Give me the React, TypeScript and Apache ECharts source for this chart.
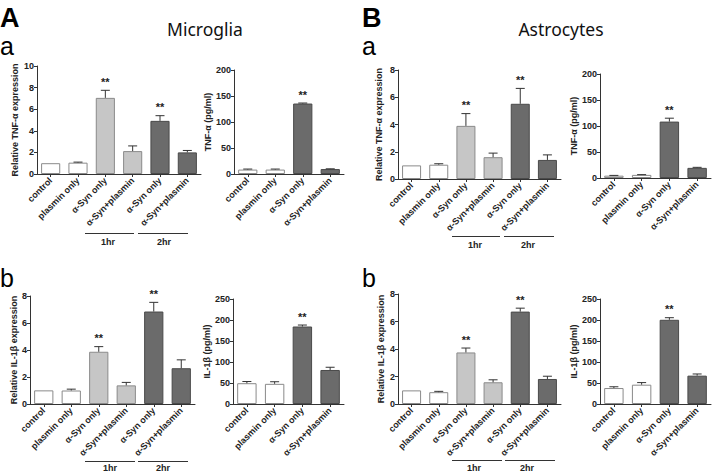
import React, { useEffect, useRef } from "react";
import * as echarts from "echarts";

// ---------- data ----------
const qpcrCategories = ["control", "plasmin only", "α-Syn only", "α-Syn+plasmin", "α-Syn only", "α-Syn+plasmin"];
const elisaCategories = ["control", "plasmin only", "α-Syn only", "α-Syn+plasmin"];

const qpcrGroups = ["white", "white", "light", "light", "dark", "dark"];
const elisaGroups = ["white", "white", "dark", "dark"];

const qpcrSignificant = [0, 0, 1, 0, 1, 0];
const elisaSignificant = [0, 0, 1, 0];

// Microglia
const mgTnfRelMean = [1.0, 1.05, 7.05, 2.12, 4.92, 2.0];
const mgTnfRelSem = [0, 0.05, 0.7, 0.48, 0.48, 0.18];
const mgTnfElisaMean = [8.5, 8.5, 135.5, 9.5];
const mgTnfElisaSem = [1, 1, 1, 0.5];
const mgIl1RelMean = [1.01, 1.0, 3.87, 1.38, 6.85, 2.65];
const mgIl1RelSem = [0, 0.1, 0.38, 0.22, 0.68, 0.62];
const mgIl1ElisaMean = [49.5, 48, 184.5, 81];
const mgIl1ElisaSem = [4, 5, 3.5, 6.5];

// Astrocytes
const asTnfRelMean = [1.0, 1.05, 3.9, 1.6, 5.52, 1.4];
const asTnfRelSem = [0, 0.07, 0.9, 0.3, 1.13, 0.37];
const asTnfElisaMean = [4.5, 6, 108.5, 19.5];
const asTnfElisaSem = [0.5, 0.5, 6.5, 1];
const asIl1RelMean = [0.99, 0.86, 3.75, 1.58, 6.72, 1.82];
const asIl1RelSem = [0, 0.06, 0.32, 0.18, 0.25, 0.2];
const asIl1ElisaMean = [38, 46, 200.5, 67.5];
const asIl1ElisaSem = [3, 5, 5, 4];

const relTnfName = "Relative TNF-α expression";
const elisaTnfName = "TNF-α (pg/ml)";
const relIl1Name = "Relative IL-1β expression";
const elisaIl1Name = "IL-1β (pg/ml)";

// ---------- styles ----------
const FONT = "'Liberation Sans', Arial, sans-serif";
const TITLE_FONT = "'Noto Sans', 'Open Sans', sans-serif";
const fills: Record<string, string> = { white: "#ffffff", light: "#c6c6c6", dark: "#6b6b6b" };
const borders: Record<string, string> = { white: "#8a8a8a", light: "#8a8a8a", dark: "#4a4a4a" };

type Panel = {
  cats: string[];
  groups: string[];
  sig: number[];
  mean: number[];
  sem: number[];
  name: string;
  max: number;
  interval: number;
  grid: { left: number; top: number; width: number; height: number };
  nameGap: number;
};

const panels: Panel[] = [
  { cats: qpcrCategories, groups: qpcrGroups, sig: qpcrSignificant, mean: mgTnfRelMean, sem: mgTnfRelSem, name: relTnfName, max: 10, interval: 2, grid: { left: 37, top: 66, width: 164, height: 108 }, nameGap: 18 },
  { cats: elisaCategories, groups: elisaGroups, sig: elisaSignificant, mean: mgTnfElisaMean, sem: mgTnfElisaSem, name: elisaTnfName, max: 200, interval: 50, grid: { left: 234, top: 70, width: 110, height: 104 }, nameGap: 19 },
  { cats: qpcrCategories, groups: qpcrGroups, sig: qpcrSignificant, mean: asTnfRelMean, sem: asTnfRelSem, name: relTnfName, max: 8, interval: 2, grid: { left: 398, top: 70, width: 163, height: 109 }, nameGap: 15 },
  { cats: elisaCategories, groups: elisaGroups, sig: elisaSignificant, mean: asTnfElisaMean, sem: asTnfElisaSem, name: elisaTnfName, max: 200, interval: 50, grid: { left: 600, top: 74, width: 111, height: 104 }, nameGap: 19 },
  { cats: qpcrCategories, groups: qpcrGroups, sig: qpcrSignificant, mean: mgIl1RelMean, sem: mgIl1RelSem, name: relIl1Name, max: 8, interval: 2, grid: { left: 30, top: 296, width: 165, height: 108 }, nameGap: 10 },
  { cats: elisaCategories, groups: elisaGroups, sig: elisaSignificant, mean: mgIl1ElisaMean, sem: mgIl1ElisaSem, name: elisaIl1Name, max: 250, interval: 50, grid: { left: 233, top: 299, width: 111, height: 105 }, nameGap: 18 },
  { cats: qpcrCategories, groups: qpcrGroups, sig: qpcrSignificant, mean: asIl1RelMean, sem: asIl1RelSem, name: relIl1Name, max: 8, interval: 2, grid: { left: 398, top: 294, width: 163, height: 110 }, nameGap: 13 },
  { cats: elisaCategories, groups: elisaGroups, sig: elisaSignificant, mean: asIl1ElisaMean, sem: asIl1ElisaSem, name: elisaIl1Name, max: 250, interval: 50, grid: { left: 600, top: 299, width: 111, height: 105 }, nameGap: 20 },
];

// bracket annotations (layout)
const brackets = [
  { y: 233.5, a: [85, 134], b: [138, 188], ly: 242, la: 108, lb: 164 },
  { y: 461.5, a: [85, 135], b: [138, 188], ly: 468, la: 110, lb: 163 },
  { y: 236.5, a: [452, 500], b: [504, 554], ly: 245, la: 475, lb: 528 },
  { y: 460.5, a: [452, 502], b: [505, 555], ly: 468, la: 474, lb: 527 },
];

function buildOption() {
  const grid = panels.map((p) => ({ ...p.grid, containLabel: false }));
  const xAxis = panels.map((p, i) => ({
    type: "category",
    gridIndex: i,
    data: p.cats,
    axisLine: { show: true, lineStyle: { color: "#333", width: 1 } },
    axisTick: { show: true, alignWithLabel: true, length: 3, lineStyle: { color: "#333" } },
    axisLabel: { interval: 0, rotate: 45, fontSize: 9, fontWeight: "bold", color: "#222", margin: 5, fontFamily: FONT },
  }));
  const yAxis = panels.map((p, i) => ({
    type: "value",
    gridIndex: i,
    min: 0,
    max: p.max,
    interval: p.interval,
    name: p.name,
    nameLocation: "middle",
    nameGap: p.nameGap,
    nameTextStyle: { fontSize: 9, fontWeight: "bold", color: "#222", fontFamily: FONT },
    axisLine: { show: true, lineStyle: { color: "#333", width: 1 } },
    axisTick: { show: true, length: 3, lineStyle: { color: "#333" } },
    axisLabel: { fontSize: 9, fontWeight: "bold", color: "#222", margin: 3, fontFamily: FONT },
    splitLine: { show: false },
  }));
  const series: any[] = [];
  panels.forEach((p, i) => {
    series.push({
      type: "bar",
      xAxisIndex: i,
      yAxisIndex: i,
      barWidth: "70%",
      data: p.mean.map((v, k) => ({
        value: v,
        itemStyle: { color: fills[p.groups[k]], borderColor: borders[p.groups[k]], borderWidth: 1 },
      })),
    });
    series.push({
      type: "custom",
      xAxisIndex: i,
      yAxisIndex: i,
      z: 3,
      data: p.mean.map((v, k) => [k, v, v + p.sem[k], p.sig[k]]),
      renderItem: (params: any, api: any) => {
        const k = api.value(0);
        const m = api.value(1);
        const u = api.value(2);
        const s = api.value(3);
        const p0 = api.coord([k, m]);
        const p1 = api.coord([k, u]);
        const children: any[] = [];
        if (u > m) {
          children.push({ type: "line", shape: { x1: p0[0], y1: p0[1], x2: p1[0], y2: p1[1] }, style: { stroke: "#333", lineWidth: 1 } });
          children.push({ type: "line", shape: { x1: p1[0] - 4.5, y1: p1[1], x2: p1[0] + 4.5, y2: p1[1] }, style: { stroke: "#333", lineWidth: 1 } });
        }
        if (s) {
          children.push({
            type: "text",
            x: p1[0],
            y: p1[1] - 3,
            style: { text: "**", fontSize: 11, fontWeight: "bold", fill: "#222", align: "center", verticalAlign: "bottom", fontFamily: FONT },
          });
        }
        return { type: "group", children };
      },
    });
  });

  const big = (text: string, x: number, top: number, bold: boolean, size: number, lh: number) => ({
    type: "text",
    left: x,
    top,
    style: { text, fontSize: size, lineHeight: lh, fontWeight: bold ? "bold" : "normal", fill: "#000", fontFamily: FONT },
  });

  const graphic: any[] = [
    big("A", 0, 4.5, true, 27, 20),
    big("a", 0, 33, false, 25, 16),
    big("b", 0, 265, false, 25, 16),
    big("B", 362, 4.5, true, 27, 20),
    big("a", 362, 33, false, 25, 16),
    big("b", 362, 265, false, 25, 16),
    { type: "text", x: 205, y: 29, style: { text: "Microglia", fontSize: 17.5, fill: "#111", align: "center", verticalAlign: "middle", fontFamily: TITLE_FONT } },
    { type: "text", x: 561, y: 29, style: { text: "Astrocytes", fontSize: 17.5, fill: "#111", align: "center", verticalAlign: "middle", fontFamily: TITLE_FONT } },
  ];
  brackets.forEach((b) => {
    graphic.push({ type: "line", shape: { x1: b.a[0], y1: b.y, x2: b.a[1], y2: b.y }, style: { stroke: "#333", lineWidth: 1.2 } });
    graphic.push({ type: "line", shape: { x1: b.b[0], y1: b.y, x2: b.b[1], y2: b.y }, style: { stroke: "#333", lineWidth: 1.2 } });
    graphic.push({ type: "text", x: b.la, y: b.ly, style: { text: "1hr", fontSize: 9, lineHeight: 9, fontWeight: "bold", fill: "#222", align: "center", verticalAlign: "middle", fontFamily: FONT } });
    graphic.push({ type: "text", x: b.lb, y: b.ly, style: { text: "2hr", fontSize: 9, lineHeight: 9, fontWeight: "bold", fill: "#222", align: "center", verticalAlign: "middle", fontFamily: FONT } });
  });

  return {
    animation: false,
    backgroundColor: "#ffffff",
    textStyle: { fontFamily: FONT },
    grid,
    xAxis,
    yAxis,
    series,
    graphic,
  };
}

export default function App() {
  const ref = useRef<HTMLDivElement>(null);
  useEffect(() => {
    document.body.style.margin = "0";
    if (!ref.current) return;
    const chart = echarts.init(ref.current, undefined, { renderer: "svg" });
    chart.setOption(buildOption() as any);
    return () => chart.dispose();
  }, []);
  return <div ref={ref} style={{ position: "absolute", left: 0, top: 0, width: 713, height: 473 }} />;
}
